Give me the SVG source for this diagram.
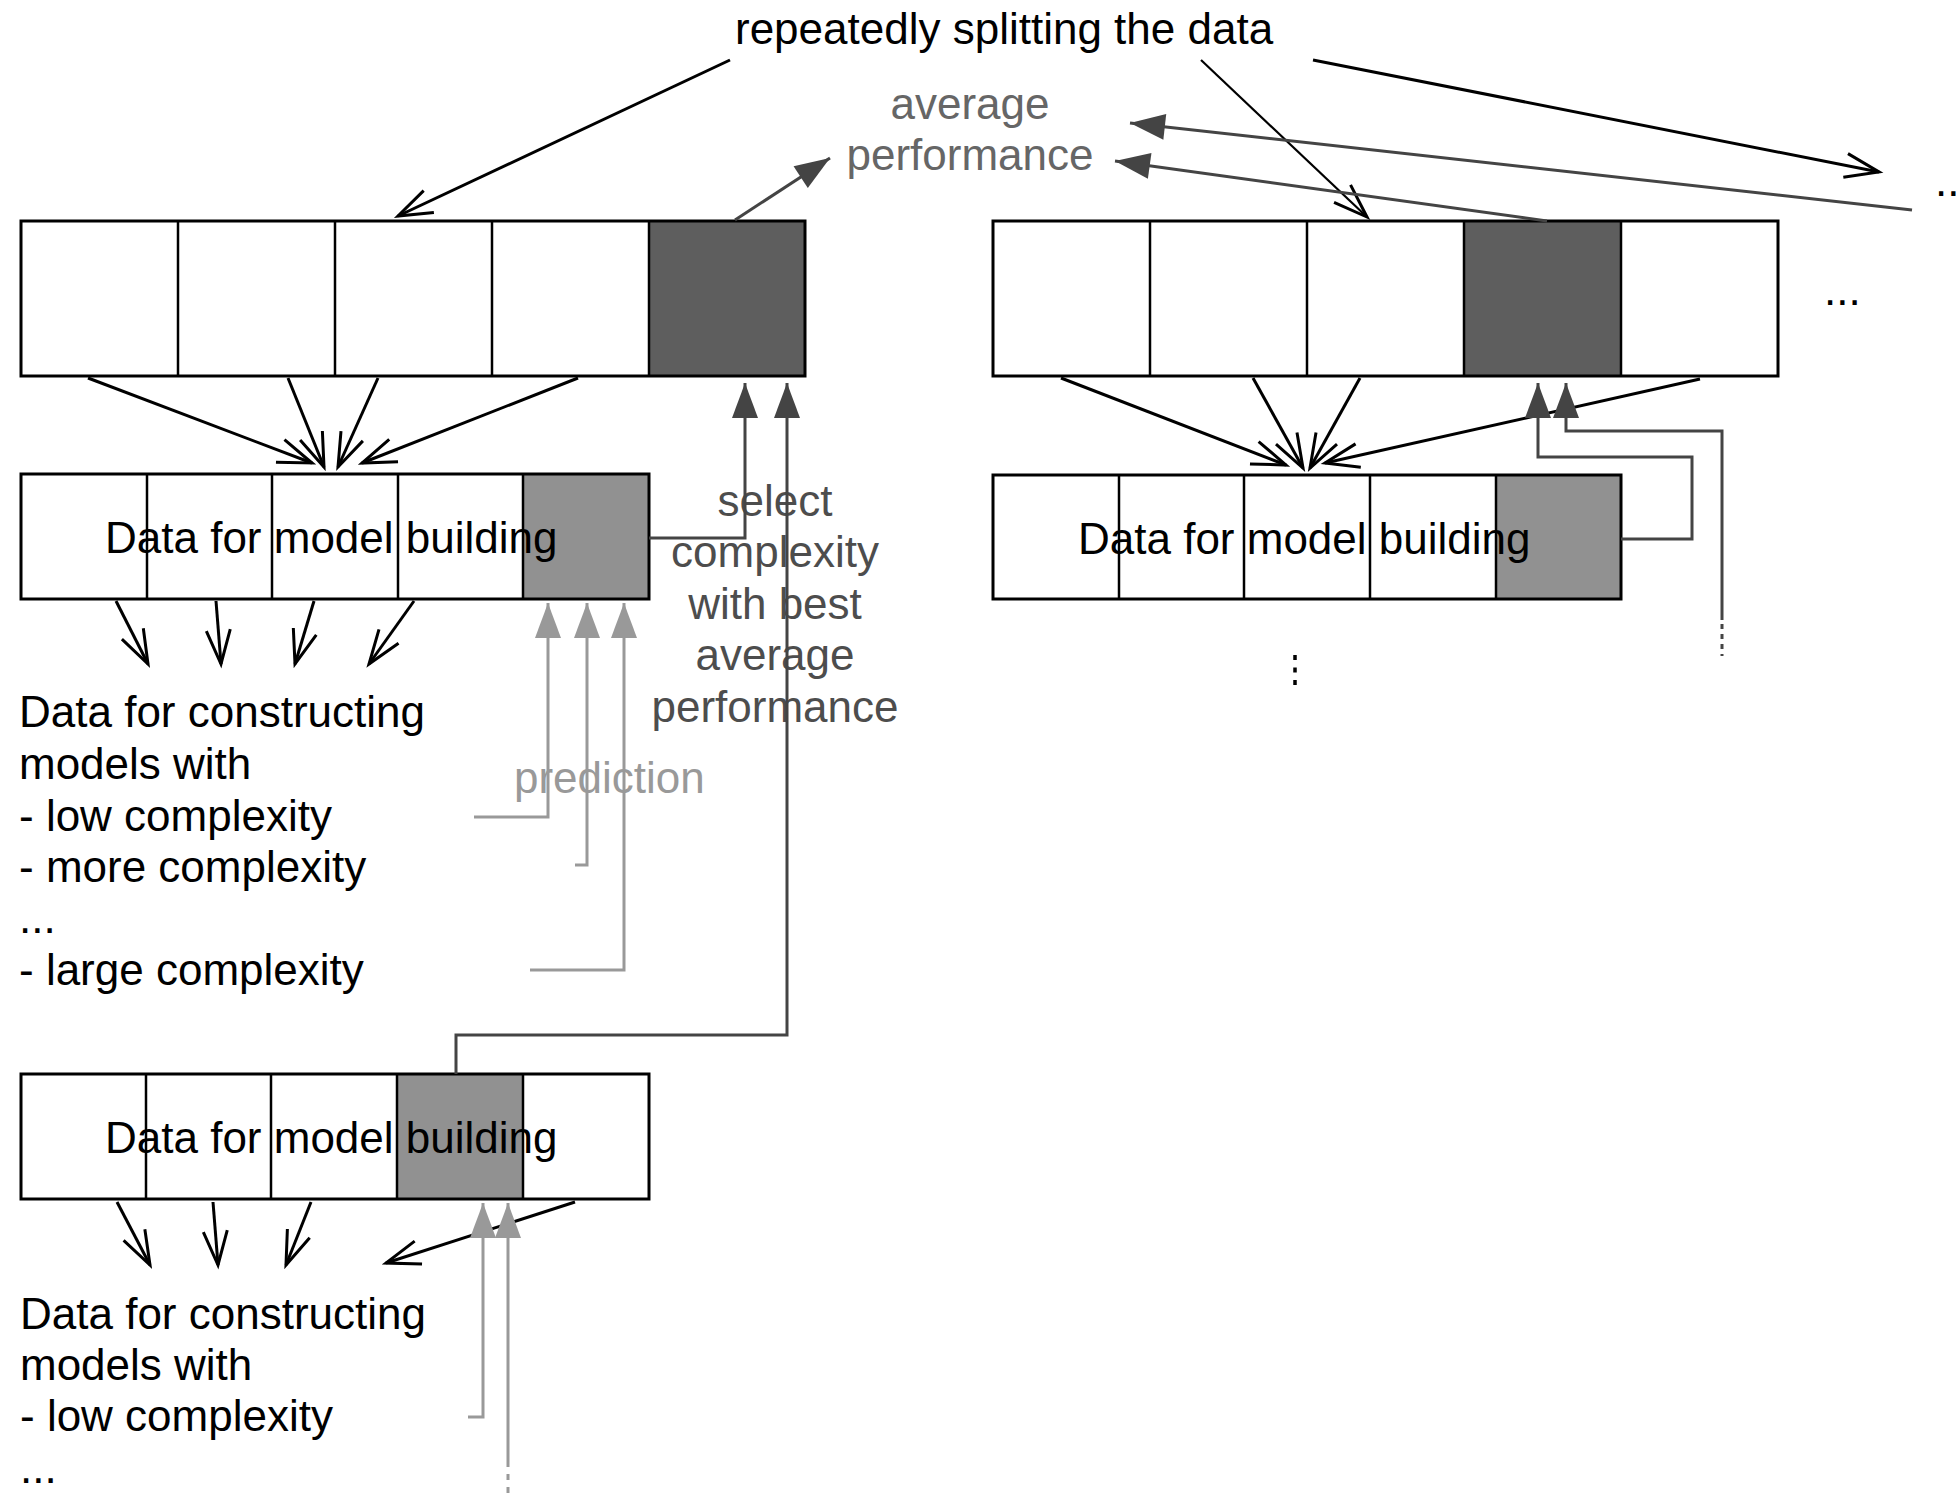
<svg xmlns="http://www.w3.org/2000/svg" width="1956" height="1500" viewBox="0 0 1956 1500">
<style>
text{font-family:"Liberation Sans",Arial,sans-serif;font-size:44px;fill:#000}
.g1{fill:#666}
.g2{fill:#4d4d4d}
.g3{fill:#999}
.mid{text-anchor:middle}
.frame{fill:none;stroke:#000;stroke-width:3}
.div{stroke:#000;stroke-width:2.5}
.cell{fill:#fff}
.dark{fill:#5e5e5e}
.med{fill:#919191}
.blk{fill:none;stroke:#000;stroke-width:3;marker-end:url(#open)}
.blkthin{fill:none;stroke:#000;stroke-width:2.2;marker-end:url(#open)}
.dg{fill:none;stroke:#444;stroke-width:3;marker-end:url(#triD)}
.dgn{fill:none;stroke:#444;stroke-width:3}
.lg{fill:none;stroke:#999;stroke-width:3;marker-end:url(#triL)}
.lgn{fill:none;stroke:#999;stroke-width:3}
</style>
<defs>
<marker id="open" markerUnits="userSpaceOnUse" viewBox="-40 -20 44 40" refX="0" refY="0" markerWidth="44" markerHeight="40" orient="auto" overflow="visible">
<path d="M-34,-12 L0,0 L-34,12" fill="none" stroke="#000" stroke-width="3"/>
</marker>
<marker id="triD" markerUnits="userSpaceOnUse" viewBox="-40 -20 44 40" refX="0" refY="0" markerWidth="44" markerHeight="40" orient="auto" overflow="visible">
<path d="M-35,-13 L0,0 L-35,13 Z" fill="#444"/>
</marker>
<marker id="triL" markerUnits="userSpaceOnUse" viewBox="-40 -20 44 40" refX="0" refY="0" markerWidth="44" markerHeight="40" orient="auto" overflow="visible">
<path d="M-35,-13 L0,0 L-35,13 Z" fill="#999"/>
</marker>
</defs>
<rect width="1956" height="1500" fill="#fff"/>

<g id="title"><text x="735" y="44">repeatedly splitting the data</text></g>
<g id="avg-perf"><text class="g1 mid" x="970" y="119">average</text><text class="g1 mid" x="970" y="170">performance</text></g>
<g id="dots-right-top"><text x="1935" y="196">...</text></g>
<g id="dots-right-box"><text x="1824" y="305">...</text></g>

<g id="box-top-left">
<rect class="cell" x="21" y="221" width="784" height="155"/>
<rect class="dark" x="649" y="221" width="156" height="155"/>
<line class="div" x1="178" y1="221" x2="178" y2="376"/>
<line class="div" x1="335" y1="221" x2="335" y2="376"/>
<line class="div" x1="492" y1="221" x2="492" y2="376"/>
<line class="div" x1="649" y1="221" x2="649" y2="376"/>
<rect class="frame" x="21" y="221" width="784" height="155"/>
</g>

<g id="box-top-right">
<rect class="cell" x="993" y="221" width="785" height="155"/>
<rect class="dark" x="1464" y="221" width="157" height="155"/>
<line class="div" x1="1150" y1="221" x2="1150" y2="376"/>
<line class="div" x1="1307" y1="221" x2="1307" y2="376"/>
<line class="div" x1="1464" y1="221" x2="1464" y2="376"/>
<line class="div" x1="1621" y1="221" x2="1621" y2="376"/>
<rect class="frame" x="993" y="221" width="785" height="155"/>
</g>

<g id="box-mid-left">
<rect class="cell" x="21" y="474" width="628" height="125"/>
<rect class="med" x="523" y="474" width="126" height="125"/>
<line class="div" x1="147" y1="474" x2="147" y2="599"/>
<line class="div" x1="272" y1="474" x2="272" y2="599"/>
<line class="div" x1="398" y1="474" x2="398" y2="599"/>
<line class="div" x1="523" y1="474" x2="523" y2="599"/>
<rect class="frame" x="21" y="474" width="628" height="125"/>
<text x="105" y="553">Data for model building</text>
</g>

<g id="box-mid-right">
<rect class="cell" x="993" y="475" width="628" height="124"/>
<rect class="med" x="1496" y="475" width="125" height="124"/>
<line class="div" x1="1119" y1="475" x2="1119" y2="599"/>
<line class="div" x1="1244" y1="475" x2="1244" y2="599"/>
<line class="div" x1="1370" y1="475" x2="1370" y2="599"/>
<line class="div" x1="1496" y1="475" x2="1496" y2="599"/>
<rect class="frame" x="993" y="475" width="628" height="124"/>
<text x="1078" y="554">Data for model building</text>
</g>

<g id="box-bottom">
<rect class="cell" x="21" y="1074" width="628" height="125"/>
<rect class="med" x="397" y="1074" width="126" height="125"/>
<line class="div" x1="146" y1="1074" x2="146" y2="1199"/>
<line class="div" x1="271" y1="1074" x2="271" y2="1199"/>
<line class="div" x1="397" y1="1074" x2="397" y2="1199"/>
<line class="div" x1="523" y1="1074" x2="523" y2="1199"/>
<rect class="frame" x="21" y="1074" width="628" height="125"/>
<text x="105" y="1153">Data for model building</text>
</g>

<g id="list-mid">
<text x="19" y="727">Data for constructing</text>
<text x="19" y="779">models with</text>
<text x="19" y="831">- low complexity</text>
<text x="19" y="882">- more complexity</text>
<text x="19" y="933">...</text>
<text x="19" y="985">- large complexity</text>
</g>

<g id="list-bottom">
<text x="20" y="1329">Data for constructing</text>
<text x="20" y="1380">models with</text>
<text x="20" y="1431">- low complexity</text>
<text x="20" y="1483">...</text>
</g>

<g id="select-label">
<text class="g2 mid" x="775" y="516">select</text>
<text class="g2 mid" x="775" y="567">complexity</text>
<text class="g2 mid" x="775" y="619">with best</text>
<text class="g2 mid" x="775" y="670">average</text>
<text class="g2 mid" x="775" y="722">performance</text>
</g>

<g id="prediction-label"><text class="g3" x="514" y="793">prediction</text></g>

<g id="connectors">
<path class="blk" d="M730,60 L398,216"/>
<path class="blkthin" d="M1201,60 L1367,217"/>
<path class="blk" d="M1313,60 L1879,172"/>

<path class="blk" d="M88,378 L312,463"/>
<path class="blk" d="M288,378 L324,467"/>
<path class="blk" d="M378,378 L338,467"/>
<path class="blk" d="M578,378 L362,463"/>

<path class="blk" d="M1061,378 L1286,465"/>
<path class="blk" d="M1253,378 L1303,468"/>
<path class="blk" d="M1360,378 L1310,468"/>
<path class="blk" d="M1700,379 L1325,463"/>

<path class="blk" d="M116,601 L148,664"/>
<path class="blk" d="M216,601 L221,664"/>
<path class="blk" d="M314,601 L295,664"/>
<path class="blk" d="M414,601 L369,664"/>

<path class="blk" d="M117,1202 L150,1265"/>
<path class="blk" d="M213,1202 L218,1265"/>
<path class="blk" d="M311,1202 L286,1265"/>
<path class="blk" d="M575,1202 L386,1263"/>

<path class="dg" d="M735,220 L830,158"/>
<path class="dg" d="M1547,221 L1115,161"/>
<path class="dg" d="M1912,210 L1130,123"/>

<path class="dg" d="M649,538 L745,538 L745,383"/>
<path class="dg" d="M456,1074 L456,1035 L787,1035 L787,383"/>
<path class="dg" d="M1621,539 L1692,539 L1692,457 L1538,457 L1538,383"/>
<path class="dg" d="M1722,620 L1722,431 L1566,431 L1566,383"/>
<path class="dgn" d="M1722,624 L1722,656" stroke-dasharray="5 5" stroke="#666"/>

<path class="lg" d="M474,817 L548,817 L548,603"/>
<path class="lg" d="M575,865 L587,865 L587,603"/>
<path class="lg" d="M530,970 L624,970 L624,603"/>
<path class="lg" d="M468,1417 L483,1417 L483,1203"/>
<path class="lg" d="M508,1467 L508,1203"/>
<path class="lgn" d="M508,1474 L508,1500" stroke-dasharray="6 7"/>

<path d="M1295,655 L1295,686" fill="none" stroke="#000" stroke-width="3.5" stroke-dasharray="5 7.5"/>
</g>
</svg>
